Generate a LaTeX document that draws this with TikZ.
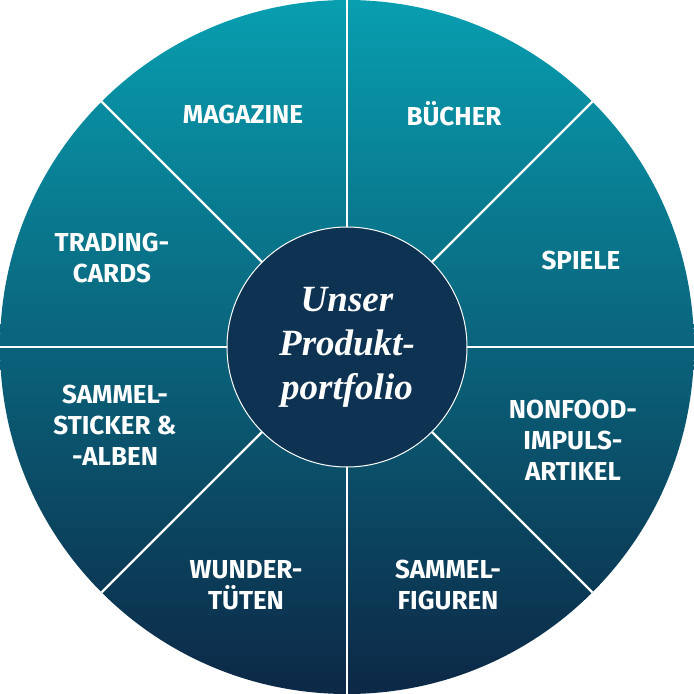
\documentclass[tikz,border=0pt]{standalone}
\usepackage{fontspec}
\setsansfont{Fira Sans}
\setmainfont{Liberation Serif}
\definecolor{tealtop}{RGB}{8,158,176}
\definecolor{navybot}{RGB}{12,40,70}
\definecolor{hubnavy}{RGB}{14,50,82}
\tikzset{
  seg/.style={white, line width=2.2pt},
  lbl/.style={white, align=center, font=\sffamily\bfseries\fontsize{26}{31}\selectfont},
  hub/.style={circle, fill=hubnavy, draw=white, line width=1pt, minimum size=240pt,
    text=white, align=center, font=\bfseries\itshape\fontsize{37}{44}\selectfont}
}
\begin{document}
\begin{tikzpicture}[x=1pt,y=1pt]
\useasboundingbox (-347,-347) rectangle (347,347);
% outer disc with gradient
\shade[top color=tealtop, bottom color=navybot] (0,0) circle (347);
% sector lines
\foreach \a in {0,45,...,315} {
  \draw[seg] (\a:100) -- (\a:347);
}
\node[hub] (hub) at (0,0) {Unser\\Produkt-\\portfolio};
% labels
\node[lbl] (mag) at (-104,233) {MAGAZINE};
\node[lbl] (buch) at (107,233) {BÜCHER};
\node[lbl] (trad) at (-235,89) {TRADING-\\CARDS};
\node[lbl] (spiel) at (234,87) {SPIELE};
\node[lbl] (stick) at (-232,-78) {SAMMEL-\\STICKER \&\\-ALBEN};
\node[lbl] (nonf) at (226,-93) {NONFOOD-\\IMPULS-\\ARTIKEL};
\node[lbl] (wund) at (-101,-238) {WUNDER-\\TÜTEN};
\node[lbl] (fig) at (101,-238) {SAMMEL-\\FIGUREN};
\end{tikzpicture}
\end{document}
